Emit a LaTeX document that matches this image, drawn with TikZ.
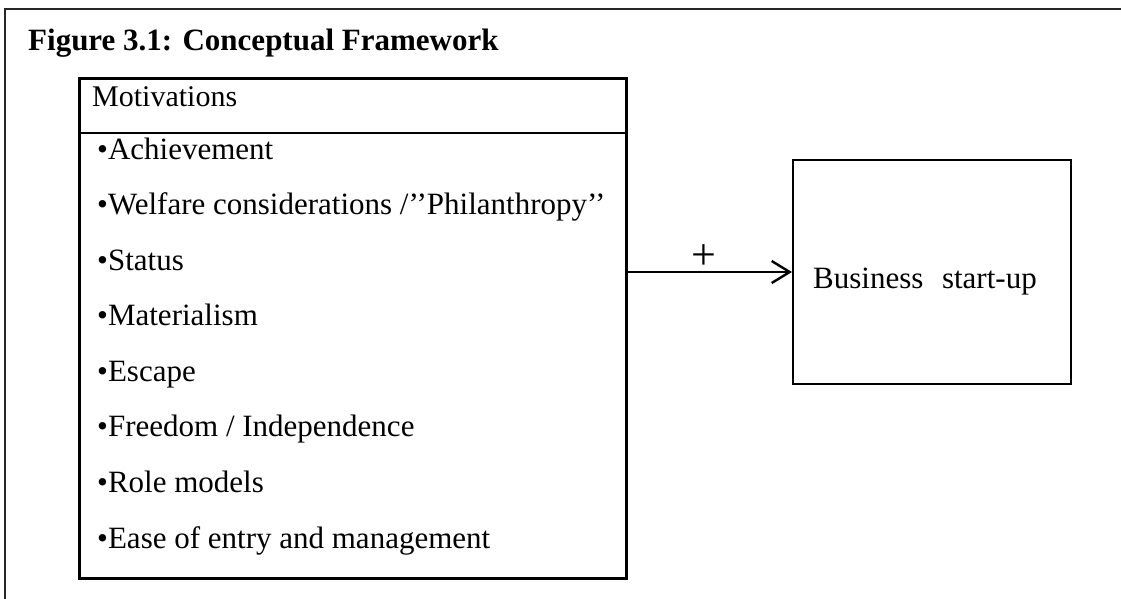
\documentclass[tikz,border=0pt]{standalone}
\usepackage{fontspec}
\setmainfont{Liberation Serif}
\usetikzlibrary{arrows.meta}
\begin{document}
\begin{tikzpicture}[x=1pt,y=-1pt,
  framebox/.style={draw=black, line width=2.6pt, inner sep=0pt, anchor=north west},
  thinbox/.style={draw=black, line width=2pt, inner sep=0pt, anchor=north west},
  titletext/.style={anchor=base west, inner sep=0pt, font=\fontsize{31}{36}\selectfont\bfseries},
  headtext/.style={anchor=base west, inner sep=0pt, font=\fontsize{30}{36}\selectfont},
  itemtext/.style={anchor=base west, inner sep=0pt, font=\fontsize{31}{36}\selectfont},
  link/.style={line width=2.4pt, -{Straight Barb[length=18pt,width=22pt,line width=2.4pt]}},
  plustext/.style={inner sep=0pt, font=\fontsize{44}{48}\selectfont}]
\useasboundingbox (0,0) rectangle (1121,598);
% outer frame (only top and left edges visible)
\coordinate (frTR) at (1125,9);
\coordinate (frTL) at (5,9);
\coordinate (frBL) at (5,602);
\draw[line width=2.2pt, black!85] (frTR) -- (frTL) -- (frBL);
% title
\node[titletext] (title) at (28,50) {Figure 3.1: Conceptual Framework};
% motivations box
\node[framebox, minimum width=547pt, minimum height=500pt] (mot) at (78,77) {};
\coordinate (divL) at (78,133);
\coordinate (divR) at (625,133);
\draw[line width=2.6pt] (divL) -- (divR);
\node[headtext] (head) at (92,106) {Motivations};
\node[itemtext] (i1) at (97,159) {•Achievement};
\node[itemtext] (i2) at (97,214.4) {•Welfare considerations /’’Philanthropy’’};
\node[itemtext] (i3) at (97,270) {•Status};
\node[itemtext] (i4) at (97,325.6) {•Materialism};
\node[itemtext] (i5) at (97,381.2) {•Escape};
\node[itemtext] (i6) at (97,436.8) {•Freedom / Independence};
\node[itemtext] (i7) at (97,492.4) {•Role models};
\node[itemtext] (i8) at (97,548) {•Ease of entry and management};
% business start-up box
\node[thinbox, minimum width=278pt, minimum height=224pt] (biz) at (792,159) {};
\node[itemtext] (biztext) at (813,288) {Business\hspace{0.6em}start-up};
% connector
\coordinate (arrS) at (mot.east |- biz.west);
\draw[link] (arrS) -- (biz.west);
\node[plustext] (plus) at (704,257) {+};
\end{tikzpicture}
\end{document}
